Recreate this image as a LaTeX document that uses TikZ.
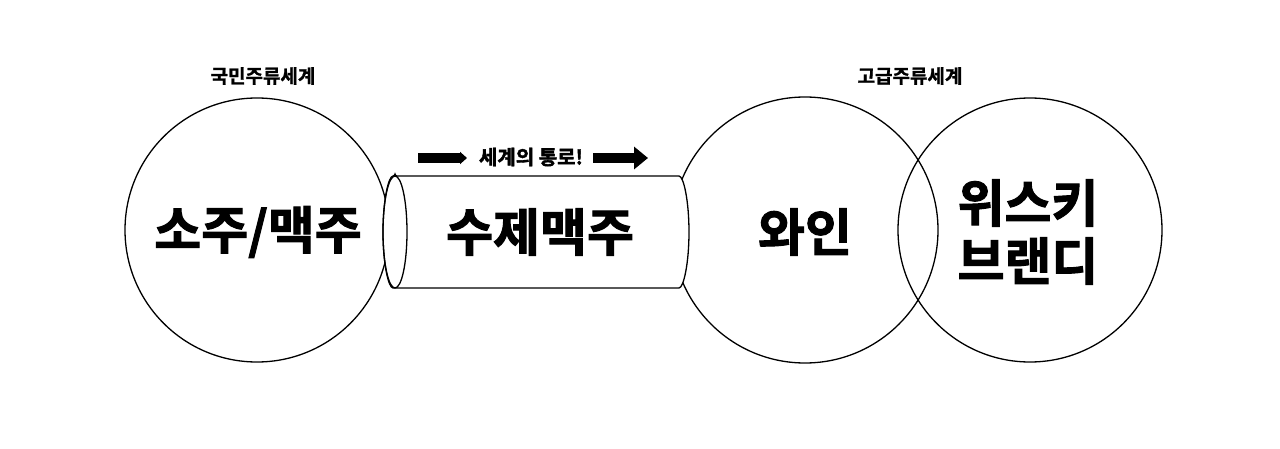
\documentclass[tikz,border=0pt]{standalone}
\usepackage{fontspec}
\newfontfamily\kr{Noto Sans CJK KR Bold}
\newfontfamily\krheavy{Noto Sans CJK KR Bold}[FakeBold=2]
\newfontfamily\krmid{Noto Sans CJK KR Bold}[FakeBold=1.2]
\usetikzlibrary{arrows.meta}
\tikzset{
  ring/.style={circle, draw, line width=1.3pt, minimum size=#1, inner sep=0pt, align=center},
  bigtext/.style={font=\krheavy\fontsize{51}{58}\selectfont},
  smalltext/.style={font=\krmid\fontsize{19}{22}\selectfont},
  fatarrow/.style={line width=10pt},
}
\begin{document}
\begin{tikzpicture}[x=1pt,y=1pt]
\useasboundingbox (0,0) rectangle (1280,448);
% circles
\node[ring=264pt] (soju) at (257,218) {};
\node[ring=266pt] (wine) at (805,218) {};
\node[ring=264pt] (whisky) at (1030,218) {};
\node[bigtext] (sojut) at (258,216) {소주/맥주};
% tube
\draw[line width=1.3pt, fill=white, rounded corners=2pt] (395,272) -- (677,272)
  arc[start angle=90, end angle=-90, x radius=12, y radius=56] -- (395,160)
  arc[start angle=270, end angle=90, x radius=12, y radius=56] -- cycle;
\draw[line width=1.3pt] (395,216) ellipse [x radius=12, y radius=56];
\node[bigtext] (craft) at (540,216) {수제맥주};
\node[bigtext] (winet) at (805,216) {와인};
\node[bigtext, align=center] (whiskyt) at (1028,216) {위스키\\브랜디};
% labels
\node[smalltext] (natl) at (263,372) {국민주류세계};
\node[smalltext] (prem) at (910,372) {고급주류세계};
\node[smalltext, font=\krheavy\fontsize{20}{22}\selectfont] (road) at (531,291) {세계의 통로!};
\coordinate (la) at (418,290);
\coordinate (lb) at (467,290);
\coordinate (ra) at (593,290);
\coordinate (rb) at (648,290);
\draw[fatarrow, -{Triangle[length=7pt, width=12pt]}] (la) -- (lb);
\draw[fatarrow, -{Triangle[length=14pt, width=22pt]}] (ra) -- (rb);
\end{tikzpicture}
\end{document}
